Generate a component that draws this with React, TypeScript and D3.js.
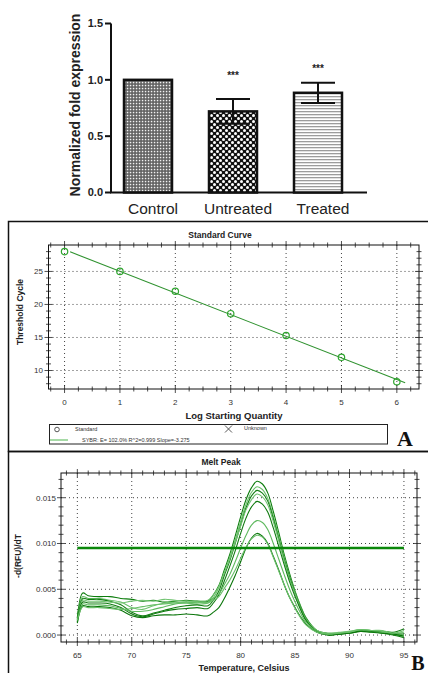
import React, { useEffect, useRef } from "react";
import * as d3 from "d3";

const W = 428;
const H = 673;
const SANS = "'Liberation Sans', Arial, sans-serif";
const SERIF = "'Liberation Serif', 'Times New Roman', serif";

// bar chart (top)
const categories = ["Control", "Untreated", "Treated"];
const foldMeans = [1.0, 0.72, 0.885];
const foldErrors = [0, 0.11, 0.09];
const sigMarks = ["", "***", "***"];
const sigLevels = [0, 1.07, 1.13];
const foldTicks = [0, 0.5, 1.0, 1.5];
const barPatterns = ["pControl", "pUntreated", "pTreated"];

// standard curve (A)
const logQty = [0, 1, 2, 3, 4, 5, 6];
const thresholdCycle = [28.0, 25.0, 22.0, 18.6, 15.3, 12.0, 8.3];
const stdXTicks = [0, 1, 2, 3, 4, 5, 6];
const stdYTicks = [10, 15, 20, 25];
const stdFitRange = [0.1, 6.15];
const stdLegendText = "SYBR: E= 102.0% R^2=0.999 Slope=-3.275";

// melt peak (B)
const meltTemps = [65, 65.5, 66, 67, 68, 69, 70, 71, 72, 73, 74, 75, 76, 77, 77.5, 78, 78.5, 79, 79.5, 80, 80.5, 81, 81.5, 82, 82.5, 83, 83.5, 84, 84.5, 85, 85.5, 86, 87, 88, 89, 90, 91, 92, 93, 94, 95];
const melt1 = [0.0018, 0.0046, 0.0043, 0.0042, 0.0042, 0.0040, 0.0039, 0.0037, 0.0038, 0.0036, 0.0037, 0.0038, 0.0037, 0.0037, 0.0044, 0.0054, 0.0071, 0.0088, 0.0108, 0.0129, 0.0148, 0.0161, 0.0168, 0.0165, 0.0155, 0.0135, 0.0112, 0.0088, 0.0067, 0.0048, 0.0032, 0.0019, 0.0005, 0.0002, 0.0002, 0.0003, 0.0005, 0.0004, 0.0004, 0.0002, 0.0001];
const melt2 = [0.0016, 0.0042, 0.0040, 0.0040, 0.0038, 0.0036, 0.0030, 0.0028, 0.0032, 0.0035, 0.0036, 0.0035, 0.0034, 0.0035, 0.0041, 0.0052, 0.0068, 0.0085, 0.0104, 0.0124, 0.0143, 0.0156, 0.0162, 0.0159, 0.0149, 0.0130, 0.0108, 0.0085, 0.0064, 0.0047, 0.0031, 0.0018, 0.0005, 0.0001, 0.0002, 0.0004, 0.0006, 0.0005, 0.0003, 0.0001, -0.0002];
const melt3 = [0.0020, 0.0040, 0.0039, 0.0039, 0.0037, 0.0033, 0.0025, 0.0021, 0.0024, 0.0027, 0.0030, 0.0032, 0.0033, 0.0032, 0.0038, 0.0048, 0.0065, 0.0081, 0.0100, 0.0120, 0.0139, 0.0152, 0.0158, 0.0155, 0.0146, 0.0127, 0.0105, 0.0083, 0.0063, 0.0046, 0.0030, 0.0017, 0.0004, 0.0001, 0.0001, 0.0003, 0.0005, 0.0004, 0.0004, 0.0003, 0.0007];
const melt4 = [0.0015, 0.0038, 0.0037, 0.0037, 0.0036, 0.0035, 0.0037, 0.0038, 0.0037, 0.0039, 0.0038, 0.0037, 0.0037, 0.0038, 0.0044, 0.0053, 0.0068, 0.0083, 0.0101, 0.0119, 0.0137, 0.0148, 0.0154, 0.0151, 0.0142, 0.0124, 0.0103, 0.0081, 0.0061, 0.0045, 0.0029, 0.0017, 0.0005, 0.0002, 0.0003, 0.0004, 0.0006, 0.0005, 0.0005, 0.0002, 0.0003];
const melt5 = [0.0017, 0.0036, 0.0035, 0.0035, 0.0034, 0.0030, 0.0023, 0.0020, 0.0023, 0.0026, 0.0028, 0.0029, 0.0030, 0.0029, 0.0035, 0.0044, 0.0059, 0.0075, 0.0092, 0.0111, 0.0128, 0.0140, 0.0146, 0.0143, 0.0134, 0.0117, 0.0097, 0.0077, 0.0058, 0.0042, 0.0028, 0.0016, 0.0004, 0.0000, 0.0001, 0.0002, 0.0004, 0.0004, 0.0002, 0.0000, -0.0003];
const melt6 = [0.0014, 0.0034, 0.0033, 0.0033, 0.0032, 0.0029, 0.0026, 0.0026, 0.0028, 0.0031, 0.0034, 0.0035, 0.0036, 0.0036, 0.0040, 0.0045, 0.0055, 0.0066, 0.0080, 0.0095, 0.0109, 0.0120, 0.0125, 0.0123, 0.0115, 0.0100, 0.0083, 0.0066, 0.0050, 0.0036, 0.0024, 0.0014, 0.0004, 0.0001, 0.0002, 0.0003, 0.0005, 0.0003, 0.0003, 0.0001, 0.0000];
const melt7 = [0.0013, 0.0032, 0.0031, 0.0031, 0.0030, 0.0027, 0.0021, 0.0019, 0.0021, 0.0022, 0.0022, 0.0023, 0.0022, 0.0021, 0.0025, 0.0030, 0.0040, 0.0052, 0.0065, 0.0080, 0.0095, 0.0106, 0.0111, 0.0108, 0.0100, 0.0086, 0.0071, 0.0055, 0.0041, 0.0030, 0.0020, 0.0012, 0.0003, 0.0000, 0.0001, 0.0002, 0.0004, 0.0003, 0.0002, 0.0001, -0.0001];
const melt8 = [0.0016, 0.0031, 0.0030, 0.0030, 0.0029, 0.0028, 0.0029, 0.0031, 0.0033, 0.0034, 0.0035, 0.0036, 0.0036, 0.0035, 0.0038, 0.0042, 0.0051, 0.0060, 0.0071, 0.0084, 0.0096, 0.0105, 0.0109, 0.0107, 0.0099, 0.0085, 0.0070, 0.0055, 0.0041, 0.0029, 0.0019, 0.0011, 0.0003, 0.0001, 0.0002, 0.0003, 0.0006, 0.0005, 0.0004, 0.0002, 0.0005];
const meltCurves = [melt1, melt2, melt3, melt4, melt5, melt6, melt7, melt8];
const meltColors = ["#0d7d0d", "#6cc26c", "#137f13", "#72c472", "#0f7a0f", "#5fb95f", "#0b760b", "#6abf6a"];
const meltThreshold = 0.0095;
const meltXTicks = [65, 70, 75, 80, 85, 90, 95];
const meltYTicks = [0, 0.005, 0.01, 0.015];

const App = () => {
    const svgRef = useRef<SVGSVGElement>(null);

    useEffect(() => {
        const svg = d3.select(svgRef.current);
        svg.selectAll("*").remove();

        // patterns for the bars
        const defs = svg.append("defs");
        const pc = defs.append("pattern").attr("id", "pControl").attr("patternUnits", "userSpaceOnUse")
            .attr("width", 3).attr("height", 3);
        pc.append("rect").attr("width", 3).attr("height", 3).attr("fill", "#5e5e5e");
        pc.append("rect").attr("x", 0.8).attr("y", 0.8).attr("width", 1.5).attr("height", 1.5).attr("fill", "#f2f2f2");

        const pu = defs.append("pattern").attr("id", "pUntreated").attr("patternUnits", "userSpaceOnUse")
            .attr("width", 6).attr("height", 6);
        pu.append("rect").attr("width", 6).attr("height", 6).attr("fill", "#111");
        pu.append("circle").attr("cx", 1.5).attr("cy", 1.5).attr("r", 1.5).attr("fill", "#fff");
        pu.append("circle").attr("cx", 4.5).attr("cy", 4.5).attr("r", 1.5).attr("fill", "#fff");

        const pt = defs.append("pattern").attr("id", "pTreated").attr("patternUnits", "userSpaceOnUse")
            .attr("width", 4).attr("height", 3);
        pt.append("rect").attr("width", 4).attr("height", 3).attr("fill", "#fff");
        pt.append("rect").attr("y", 0).attr("width", 4).attr("height", 1.3).attr("fill", "#9c9c9c");

        // ---------- bar chart ----------
        const yF = d3.scaleLinear().domain([0, 1.5]).range([192.5, 23.5]);
        const xF = d3.scalePoint<string>().domain(categories).range([148, 318]);
        const barW = 48;
        const axisX = 111;
        const top = svg.append("g");

        top.append("line").attr("x1", axisX).attr("x2", axisX).attr("y1", yF(1.5)).attr("y2", yF(0))
            .attr("stroke", "#111").attr("stroke-width", 2);
        top.append("line").attr("x1", axisX - 1).attr("x2", 367).attr("y1", yF(0)).attr("y2", yF(0))
            .attr("stroke", "#111").attr("stroke-width", 2);
        foldTicks.forEach(t => {
            top.append("line").attr("x1", axisX - 6).attr("x2", axisX).attr("y1", yF(t)).attr("y2", yF(t))
                .attr("stroke", "#111").attr("stroke-width", 2);
            top.append("text").attr("x", axisX - 8).attr("y", yF(t)).attr("dy", "0.35em")
                .attr("text-anchor", "end").attr("font-family", SANS).attr("font-weight", "bold")
                .attr("font-size", 11).attr("fill", "#222").text(t.toFixed(1));
        });
        top.append("text").attr("transform", `translate(80,105) rotate(-90)`)
            .attr("text-anchor", "middle").attr("font-family", SANS).attr("font-weight", "bold")
            .attr("font-size", 14).attr("fill", "#222").text("Normalized fold expression");

        categories.forEach((c, i) => {
            const cx = xF(c) as number;
            top.append("rect").attr("x", cx - barW / 2).attr("y", yF(foldMeans[i]))
                .attr("width", barW).attr("height", yF(0) - yF(foldMeans[i]))
                .attr("fill", `url(#${barPatterns[i]})`).attr("stroke", "#111").attr("stroke-width", 2.5);
            if (foldErrors[i] > 0) {
                const hi = yF(foldMeans[i] + foldErrors[i]);
                const lo = yF(foldMeans[i] - foldErrors[i]);
                top.append("line").attr("x1", cx).attr("x2", cx).attr("y1", hi).attr("y2", lo)
                    .attr("stroke", "#111").attr("stroke-width", 2);
                [hi, lo].forEach(y => {
                    top.append("line").attr("x1", cx - 17).attr("x2", cx + 17).attr("y1", y).attr("y2", y)
                        .attr("stroke", "#111").attr("stroke-width", 2);
                });
            }
            if (sigMarks[i]) {
                top.append("text").attr("x", cx).attr("y", yF(sigLevels[i])).attr("dy", "0.7em")
                    .attr("text-anchor", "middle").attr("font-family", SANS).attr("font-weight", "bold")
                    .attr("font-size", 10).attr("fill", "#222").text(sigMarks[i]);
            }
            top.append("text").attr("x", cx + 5).attr("y", 214).attr("text-anchor", "middle")
                .attr("font-family", SANS).attr("font-size", 15.5).attr("fill", "#222").text(c);
        });

        // ---------- panel frames ----------
        svg.append("rect").attr("x", 8.5).attr("y", 221.5).attr("width", 440).attr("height", 230)
            .attr("fill", "none").attr("stroke", "#111").attr("stroke-width", 1.5);
        svg.append("rect").attr("x", 8.5).attr("y", 451.5).attr("width", 440).attr("height", 240)
            .attr("fill", "none").attr("stroke", "#111").attr("stroke-width", 1.5);

        // ---------- standard curve ----------
        const xS = d3.scaleLinear().domain([-0.29, 6.4]).range([48.5, 419]);
        const yS = d3.scaleLinear().domain([7.2, 29.0]).range([389, 245]);
        const sc = svg.append("g");

        stdXTicks.forEach(t => {
            sc.append("line").attr("x1", xS(t)).attr("x2", xS(t)).attr("y1", 245).attr("y2", 389)
                .attr("stroke", "#444").attr("stroke-dasharray", "1,3");
            sc.append("text").attr("x", xS(t)).attr("y", 405).attr("text-anchor", "middle")
                .attr("font-family", SANS).attr("font-size", 8).attr("fill", "#333").text(t);
        });
        stdYTicks.forEach(t => {
            sc.append("line").attr("x1", 48.5).attr("x2", 419).attr("y1", yS(t)).attr("y2", yS(t))
                .attr("stroke", "#444").attr("stroke-dasharray", "1,3");
            sc.append("text").attr("x", 43).attr("y", yS(t)).attr("dy", "0.35em").attr("text-anchor", "end")
                .attr("font-family", SANS).attr("font-size", 8).attr("fill", "#333").text(t);
        });
        d3.range(-0.25, 6.4, 0.25).forEach(t => {
            const len = Math.abs(t - Math.round(t)) < 0.01 ? 4 : 2.5;
            sc.append("line").attr("x1", xS(t)).attr("x2", xS(t)).attr("y1", 389 - len).attr("y2", 389 + len)
                .attr("stroke", "#222").attr("stroke-width", 0.8);
            sc.append("line").attr("x1", xS(t)).attr("x2", xS(t)).attr("y1", 245 - len).attr("y2", 245 + len)
                .attr("stroke", "#222").attr("stroke-width", 0.8);
        });
        d3.range(8, 29, 1).forEach(t => {
            const len = t % 5 === 0 ? 4 : 2.5;
            sc.append("line").attr("x1", 48.5 - len).attr("x2", 48.5 + len).attr("y1", yS(t)).attr("y2", yS(t))
                .attr("stroke", "#222").attr("stroke-width", 0.8);
            sc.append("line").attr("x1", 419 - len).attr("x2", 419 + len).attr("y1", yS(t)).attr("y2", yS(t))
                .attr("stroke", "#222").attr("stroke-width", 0.8);
        });
        sc.append("rect").attr("x", 48.5).attr("y", 245).attr("width", 370.5).attr("height", 144)
            .attr("fill", "none").attr("stroke", "#111").attr("stroke-width", 1);

        // least-squares fit through the standards
        const mx = d3.mean(logQty) as number;
        const my = d3.mean(thresholdCycle) as number;
        const slope = d3.sum(logQty, (x, i) => (x - mx) * (thresholdCycle[i] - my)) /
            d3.sum(logQty, x => (x - mx) * (x - mx));
        const icept = my - slope * mx;
        sc.append("line").attr("x1", xS(stdFitRange[0])).attr("y1", yS(icept + slope * stdFitRange[0]))
            .attr("x2", xS(stdFitRange[1])).attr("y2", yS(icept + slope * stdFitRange[1]))
            .attr("stroke", "#2f922f").attr("stroke-width", 1.1);
        logQty.forEach((x, i) => {
            sc.append("circle").attr("cx", xS(x)).attr("cy", yS(thresholdCycle[i])).attr("r", 3.2)
                .attr("fill", "none").attr("stroke", "#2ea52e").attr("stroke-width", 1.2);
        });

        sc.append("text").attr("x", 220).attr("y", 238).attr("text-anchor", "middle")
            .attr("font-family", SANS).attr("font-weight", "bold").attr("font-size", 8.5).attr("fill", "#222")
            .text("Standard Curve");
        sc.append("text").attr("x", 234).attr("y", 419).attr("text-anchor", "middle")
            .attr("font-family", SANS).attr("font-weight", "bold").attr("font-size", 9.5).attr("fill", "#222")
            .text("Log Starting Quantity");
        sc.append("text").attr("transform", "translate(23,312) rotate(-90)").attr("text-anchor", "middle")
            .attr("font-family", SANS).attr("font-weight", "bold").attr("font-size", 8.5).attr("fill", "#222")
            .text("Threshold Cycle");

        // legend
        sc.append("rect").attr("x", 49.5).attr("y", 424.5).attr("width", 338).attr("height", 19.5)
            .attr("fill", "#fff").attr("stroke", "#222").attr("stroke-width", 1);
        sc.append("circle").attr("cx", 57).attr("cy", 429.5).attr("r", 2.3).attr("fill", "none")
            .attr("stroke", "#444").attr("stroke-width", 0.9);
        sc.append("text").attr("x", 75).attr("y", 431).attr("font-family", SANS).attr("font-size", 5.5)
            .attr("fill", "#333").text("Standard");
        sc.append("path").attr("d", "M225,425.5L232,432.5M232,425.5L225,432.5").attr("stroke", "#444")
            .attr("stroke-width", 0.9);
        sc.append("text").attr("x", 244).attr("y", 430).attr("font-family", SANS).attr("font-size", 5.5)
            .attr("fill", "#333").text("Unknown");
        sc.append("line").attr("x1", 50).attr("x2", 68).attr("y1", 440).attr("y2", 440)
            .attr("stroke", "#6cc26c").attr("stroke-width", 1.2);
        sc.append("text").attr("x", 82).attr("y", 441.5).attr("font-family", SANS).attr("font-size", 5.5)
            .attr("fill", "#333").text(stdLegendText);

        svg.append("text").attr("x", 405).attr("y", 446).attr("text-anchor", "middle")
            .attr("font-family", SERIF).attr("font-weight", "bold").attr("font-size", 22).attr("fill", "#111")
            .text("A");

        // ---------- melt peak ----------
        const xM = d3.scaleLinear().domain([63.5, 96.2]).range([61, 417]);
        const yM = d3.scaleLinear().domain([-0.00076, 0.0177]).range([642, 473]);
        const mp = svg.append("g");

        meltXTicks.forEach(t => {
            mp.append("line").attr("x1", xM(t)).attr("x2", xM(t)).attr("y1", 473).attr("y2", 642)
                .attr("stroke", "#444").attr("stroke-dasharray", "1,3");
            mp.append("text").attr("x", xM(t)).attr("y", 658).attr("text-anchor", "middle")
                .attr("font-family", SANS).attr("font-size", 8).attr("fill", "#333").text(t);
        });
        meltYTicks.forEach(t => {
            mp.append("line").attr("x1", 61).attr("x2", 417).attr("y1", yM(t)).attr("y2", yM(t))
                .attr("stroke", "#444").attr("stroke-dasharray", "1,3");
            mp.append("text").attr("x", 56).attr("y", yM(t)).attr("dy", "0.35em").attr("text-anchor", "end")
                .attr("font-family", SANS).attr("font-size", 8).attr("fill", "#333").text(t.toFixed(3));
        });
        d3.range(64, 97, 1).forEach(t => {
            const len = t % 5 === 0 ? 4 : 2.5;
            mp.append("line").attr("x1", xM(t)).attr("x2", xM(t)).attr("y1", 642 - len).attr("y2", 642 + len)
                .attr("stroke", "#222").attr("stroke-width", 0.8);
            mp.append("line").attr("x1", xM(t)).attr("x2", xM(t)).attr("y1", 473 - len).attr("y2", 473 + len)
                .attr("stroke", "#222").attr("stroke-width", 0.8);
        });
        d3.range(0, 0.0176, 0.001).forEach((t, i) => {
            const len = i % 5 === 0 ? 4 : 2.5;
            mp.append("line").attr("x1", 61 - len).attr("x2", 61 + len).attr("y1", yM(t)).attr("y2", yM(t))
                .attr("stroke", "#222").attr("stroke-width", 0.8);
            mp.append("line").attr("x1", 417 - len).attr("x2", 417 + len).attr("y1", yM(t)).attr("y2", yM(t))
                .attr("stroke", "#222").attr("stroke-width", 0.8);
        });
        mp.append("rect").attr("x", 61).attr("y", 473).attr("width", 356).attr("height", 169)
            .attr("fill", "none").attr("stroke", "#111").attr("stroke-width", 1);

        const meltLine = d3.line<number>()
            .x((_, i) => xM(meltTemps[i]))
            .y(d => yM(d))
            .curve(d3.curveCatmullRom.alpha(0.5));
        meltCurves.forEach((c, k) => {
            mp.append("path").attr("d", meltLine(c) as string).attr("fill", "none")
                .attr("stroke", meltColors[k]).attr("stroke-width", 1.1);
        });
        mp.append("line").attr("x1", xM(65)).attr("x2", xM(95)).attr("y1", yM(meltThreshold))
            .attr("y2", yM(meltThreshold)).attr("stroke", "#0a870a").attr("stroke-width", 2.5);

        mp.append("text").attr("x", 221).attr("y", 465).attr("text-anchor", "middle")
            .attr("font-family", SANS).attr("font-weight", "bold").attr("font-size", 8.5).attr("fill", "#222")
            .text("Melt Peak");
        mp.append("text").attr("x", 244).attr("y", 671).attr("text-anchor", "middle")
            .attr("font-family", SANS).attr("font-weight", "bold").attr("font-size", 9).attr("fill", "#222")
            .text("Temperature, Celsius");
        mp.append("text").attr("transform", "translate(21,556) rotate(-90)").attr("text-anchor", "middle")
            .attr("font-family", SANS).attr("font-weight", "bold").attr("font-size", 8.5).attr("fill", "#222")
            .text("-d(RFU)/dT");

        svg.append("text").attr("x", 418).attr("y", 670).attr("text-anchor", "middle")
            .attr("font-family", SERIF).attr("font-weight", "bold").attr("font-size", 20).attr("fill", "#111")
            .text("B");
    }, []);

    return (
        <svg ref={svgRef} width={W} height={H}
            style={{ position: "absolute", left: 0, top: 0, background: "#fff" }} />
    );
};

export default App;
